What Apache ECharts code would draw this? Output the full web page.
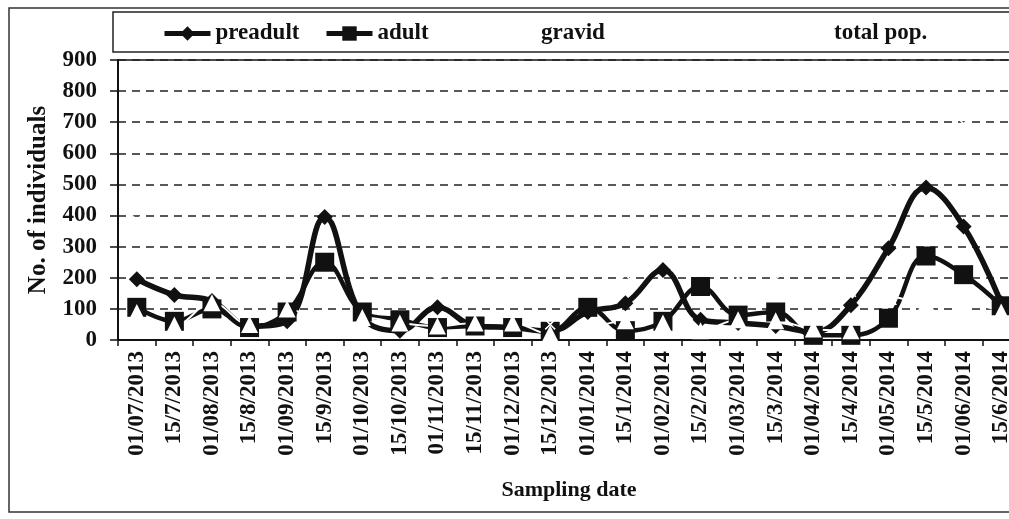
<!DOCTYPE html>
<html>
<head>
<meta charset="utf-8">
<script src="https://cdn.jsdelivr.net/npm/echarts@6/dist/echarts.min.js"></script>
<style>
  html, body { margin: 0; padding: 0; overflow: hidden; background: #fff; }
  #chart { width: 1040px; height: 519px; }
</style>
</head>
<body>
<div id="chart"></div>
<script>
// sampling dates (x axis)
const dates = [
  '01/07/2013', '15/7/2013', '01/08/2013', '15/8/2013', '01/09/2013', '15/9/2013',
  '01/10/2013', '15/10/2013', '01/11/2013', '15/11/2013', '01/12/2013', '15/12/2013',
  '01/01/2014', '15/1/2014', '01/02/2014', '15/2/2014', '01/03/2014', '15/3/2014',
  '01/04/2014', '15/4/2014', '01/05/2014', '15/5/2014', '01/06/2014', '15/6/2014'
];

// counts
const preadult = [195, 145, 125, 45, 60, 395, 75, 30, 105, 45, 40, 28, 90, 118, 225, 65, 55, 45, 25, 112, 295, 490, 365, 118];
const adult    = [105, 60, 100, 40, 90, 250, 90, 65, 40, 45, 40, 28, 105, 30, 60, 172, 80, 90, 15, 15, 70, 270, 210, 110];
const gravid   = [88, 48, 120, 50, 100, 60, 72, 55, 45, 55, 55, 20, 35, 62, 55, 30, 65, 62, 35, 30, 140, 120, 120, 90];
const totalPop = [385, 255, 345, 135, 250, 705, 235, 150, 190, 145, 135, 50, 230, 210, 340, 265, 200, 195, 75, 155, 505, 880, 695, 320];

const yTicks = { min: 0, max: 900, step: 100 };

const chart = echarts.init(document.getElementById('chart'));
const font = '"Liberation Serif", "Times New Roman", serif';
const ink = '#111';

const legendAt = (name, left, lineWidth) => ({
  data: [name],
  left: left,
  top: 22,
  padding: 0,
  itemWidth: 46,
  itemHeight: 18,
  itemGap: 0,
  lineStyle: { width: lineWidth },
  textStyle: { fontFamily: font, fontWeight: 'bold', fontSize: 23, color: ink }
});

const option = {
  animation: false,
  backgroundColor: '#fff',
  graphic: [
    { type: 'rect', shape: { x: 9, y: 8, width: 1100, height: 504 },
      style: { fill: 'none', stroke: '#333', lineWidth: 1.5 }, silent: true },
    { type: 'rect', shape: { x: 113, y: 12, width: 1000, height: 40 },
      style: { fill: 'none', stroke: '#222', lineWidth: 1.5 }, silent: true }
  ],
  legend: [
    legendAt('preadult', 162, 5),
    legendAt('adult', 324, 5),
    legendAt('gravid', 490, 0),
    legendAt('total pop.', 783, 0)
  ],
  grid: {
    left: 118, top: 60, width: 902, height: 280,
    show: true, borderColor: ink, borderWidth: 1.5
  },
  xAxis: {
    type: 'category',
    data: dates,
    boundaryGap: true,
    name: 'Sampling date',
    nameLocation: 'middle',
    nameGap: 139,
    nameTextStyle: { fontFamily: font, fontWeight: 'bold', fontSize: 22, color: ink },
    axisLine: { lineStyle: { color: ink, width: 2 } },
    axisTick: { show: true, length: 6, interval: 0, lineStyle: { color: ink, width: 1.5 } },
    axisLabel: {
      interval: 0, rotate: 90, margin: 11,
      fontFamily: font, fontWeight: 'bold', fontSize: 23, color: ink
    },
    splitLine: { show: false }
  },
  yAxis: [
    {
      type: 'value',
      min: yTicks.min, max: yTicks.max, interval: yTicks.step,
      name: 'No. of individuals',
      nameLocation: 'middle',
      nameGap: 67,
      nameTextStyle: { fontFamily: font, fontWeight: 'bold', fontSize: 25, color: ink },
      axisLine: { show: true, lineStyle: { color: ink, width: 2 } },
      axisTick: { show: true, length: 8, lineStyle: { color: ink, width: 1.5 } },
      axisLabel: { margin: 21, fontFamily: font, fontWeight: 'bold', fontSize: 23, color: ink },
      splitLine: { show: true, lineStyle: { color: '#222', width: 1.5, type: [8, 6] } }
    },
    {
      // short inner ticks so the y ticks cross the axis like the original
      type: 'value',
      min: yTicks.min, max: yTicks.max, interval: yTicks.step,
      axisLine: { show: false },
      axisTick: { show: true, inside: true, length: 5, lineStyle: { color: ink, width: 1.5 } },
      axisLabel: { show: false },
      splitLine: { show: false }
    }
  ],
  series: [
    {
      name: 'preadult', type: 'line', data: preadult, smooth: 0.4,
      symbol: 'diamond', symbolSize: 16,
      lineStyle: { color: ink, width: 5.5 },
      itemStyle: { color: ink, borderWidth: 0 }
    },
    {
      name: 'adult', type: 'line', data: adult, smooth: 0.4,
      symbol: 'rect', symbolSize: 19,
      lineStyle: { color: ink, width: 4.5 },
      itemStyle: { color: ink, borderWidth: 0 }
    },
    {
      name: 'gravid', type: 'line', data: gravid, smooth: 0.4,
      symbol: 'triangle', symbolSize: 17,
      lineStyle: { color: '#fff', width: 2 },
      itemStyle: { color: '#fff', borderColor: '#fff', borderWidth: 0 }
    },
    {
      name: 'total pop.', type: 'line', data: totalPop, smooth: 0.4,
      symbol: 'path://M0,1 L1,0 L5,4 L9,0 L10,1 L6,5 L10,9 L9,10 L5,6 L1,10 L0,9 L4,5 Z',
      symbolSize: 11,
      lineStyle: { color: '#fff', width: 0, opacity: 0 },
      itemStyle: { color: '#fff', borderColor: '#fff', borderWidth: 0 }
    }
  ]
};

chart.setOption(option);
</script>
</body>
</html>
